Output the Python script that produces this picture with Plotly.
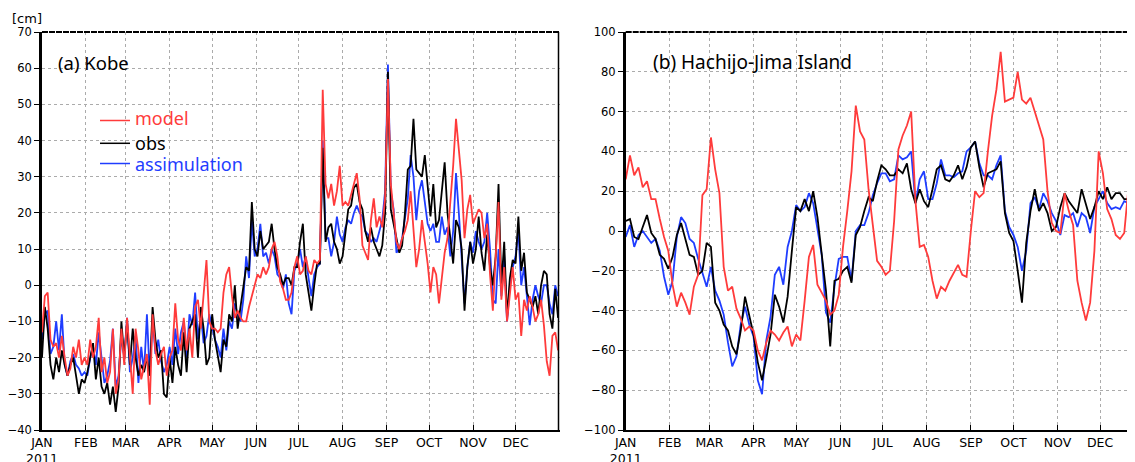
import pandas as pd
import plotly.graph_objects as go

# ---------------- Data (Kobe, every 2 days from 2011-01-01) ----------------
kobe_model = [
    -13, -3, -2, -15, -17, -16, -20, -14, -20, -25, -23, -17, -20, -15, -22, -20,
    -22, -15, -20, -17, -9, -24, -20, -27, -24, -12, -30, -26, -12, -22,
    -9, -20, -30, -12, -18, -26, -22, -19, -33, -8, -18, -22, -19, -17, -25,
    -20, -18, -5, -15, -18, -9, -18, -12, -20, -6, -4, -12, -2, 7, -10,
    -12, -12, -13, -12, -2, 3, 5, -3, -9, -7, -9, -10, -10, -6, -3, 0,
    3, 2, 5, 3, 5, 10, 12, 8, 1, -1, -4, -4, -2, 5, 8,
    3, 4, 8, 4, 3, 7, 6, 7, 54, 28, 24, 28, 22, 26, 33,
    22, 23, 22, 25, 28, 31, 24, 11, 9, 7, 18, 24, 16, 19, 16, 24,
    57, 28, 20, 12, 10, 13, 15, 18, 26, 14, 5, 10, 18, 12, 6,
    -2, 5, 3, -5, 2, 9, 13, 22, 33, 46, 37, 29, 13, 21, 25,
    17, 19, 21, 20, 13, 17, 3, -7, 10, 23, -4, 5, -10, -2, 5,
    -4, -2, -14, -4, -7, -3, -6, -10, -8, -4, -11, -21, -25, -14, -13, -18,
]
kobe_obs = [
    -20, -6, -12, -22, -26, -20, -24, -18, -22, -25, -22, -20, -25, -30, -26, -27,
    -24, -20, -16, -26, -20, -28, -30, -27, -33, -28, -35, -28, -10, -20,
    -10, -22, -12, -20, -25, -22, -24, -20, -25, -6, -15, -20, -18, -30, -31,
    -20, -27, -17, -22, -25, -13, -24, -12, -10, -8, -20, -6, -12, -22, -20,
    -8, -15, -20, -24, -15, -17, -8, -10, 0, -12, -6, -1, 5, 4, 23, 10,
    8, 15, 10, 11, 12, 17, 10, 5, 3, 0, 2, 2, 0, 5, 5,
    12, 17, 3, -2, -7, 0, 6, 6, 38, 12, 16, 17, 12, 10, 6,
    8, 15, 21, 22, 27, 28, 23, 21, 15, 12, 16, 12, 10, 8, 11, 20,
    59, 21, 17, 13, 9, 11, 20, 32, 33, 46, 32, 31, 30, 36, 28,
    19, 28, 16, 18, 26, 34, 20, 12, 6, 18, 16, 10, -7, 5, 12,
    6, 10, 19, 9, 4, 14, 5, 0, 8, 28, 0, 12, -9, 2, 7,
    6, 19, 4, 9, -2, -4, -6, -3, -8, 0, 4, 3, -8, -12, -1, -9,
]
kobe_assim = [
    -15, -8, -7, -19, -17, -10, -18, -8, -22, -25, -21, -19, -22, -23, -25, -24,
    -25, -20, -17, -22, -13, -20, -27, -25, -21, -12, -28, -25, -14, -20,
    -9, -24, -20, -14, -27, -17, -24, -8, -25, -9, -19, -15, -21, -24, -22,
    -17, -22, -12, -19, -13, -10, -20, -8, -11, -2, -15, -8, -16, -14, -8,
    -12, -15, -17, -20, -12, -18, -10, -12, -5, -8, -10, -4, 8, 2, 18, 8,
    10, 17, 8, 9, 6, 10, 8, 3, 2, -1, 3, -5, -8, 4, 6,
    10, 5, 8, 2, -3, 3, 5, 6, 40, 13, 13, 8, 12, 19, 14,
    12, 16, 18, 17, 20, 22, 20, 19, 15, 14, 12, 13, 12, 15, 18, 26,
    61, 26, 21, 9, 10, 13, 18, 24, 36, 30, 18, 26, 29, 23, 17,
    15, 17, 12, 12, 19, 14, 16, 8, 15, 31, 20, 8, -5, 5, 12,
    9, 15, 12, 10, 12, 20, 10, -4, -5, 10, -3, 8, -10, 0, 5,
    8, 15, 0, 5, -3, -11, -4, 0, -3, -5, 0, 0, -5, -8, 0, -3,
]

# ---------------- Data (Hachijo-Jima, every 3 days from 2011-01-01) ----------------
hachi_model = [
    26, 38, 28, 32, 22, 25, 16, 16, 6, -3, -10,
    -27, -38, -31, -36, -42, -28, -22, 18, 21,
    47, 31, 19, -18, -30, -28, -39, -44, -50, -48,
    -50, -60, -65, -56, -50, -52, -55, -51, -48, -58,
    -52, -55, -35, -13, -7, -27, -31, -35, -42, -40, -32,
    -8, 10, 30, 63, 50, 46, 21, 3, -15, -18,
    -22, -20, 5, 41, 48, 53, 60, 15, -8, -7,
    -13, -25, -34, -28, -30, -25, -21, -17, -22, -23,
    0, 20, 17, 19, 40, 58, 71, 90, 65, 66,
    67, 80, 66, 64, 67, 60, 53, 46, 20, 4, 0,
    -1, 19, 10, 3, -25, -36, -45, -36, -10, 40,
    29, 11, 6, -2, -4, -1, 22, 38, 39, 38,
]
hachi_obs = [
    5, 6, -3, -4, 2, 8, -1, -4, -12, -14, -19,
    -13, -2, 4, -4, -12, -13, -22, -20, -6,
    -8, -36, -40, -47, -50, -58, -62, -50, -33, -42,
    -52, -66, -75, -64, -52, -32, -38, -46, -33, -10,
    12, 10, 16, 10, 20, 7, -10, -30, -58, -25, -24,
    -20, -18, -26, -2, 2, 10, 17, 15, 25, 33,
    31, 28, 28, 31, 29, 34, 21, 14, 21, 15,
    12, 21, 31, 33, 26, 25, 28, 33, 26, 32,
    42, 45, 32, 22, 29, 30, 31, 35, 9, -1,
    -5, -20, -36, -6, 10, 21, 10, 14, 9, 0, 2,
    12, 19, 15, 12, 9, 21, 14, 6, 12, 20,
    16, 22, 16, 19, 19, 16, 16, 18, 16, 12,
]
hachi_assim = [
    -3, 3, -8, -2, 0, -3, -6, -4, -10, -23, -32,
    -25, -3, 7, 4, -4, -6, -14, -21, -28,
    -18, -30, -35, -42, -56, -68, -63, -47, -38, -47,
    -53, -75, -82, -55, -43, -22, -18, -27, -8, 0,
    13, 10, 12, 19, 14, 2, -12, -41, -46, -28, -14,
    -13, -13, -25, 0, 3, 3, 9, 18, 24, 29,
    29, 25, 26, 38, 36, 37, 40, 14, 26, 30,
    16, 16, 24, 36, 28, 28, 27, 29, 30, 40,
    42, 45, 34, 28, 28, 26, 33, 38, 10, 2,
    -2, -8, -20, -10, 14, 17, 11, 19, 15, 9, 5,
    -2, 8, 7, 9, 2, 9, 7, -1, 12, 16,
    20, 14, 11, 12, 11, 15, 14, 7, 5, 5,
]

month_labels = ["JAN<br>2011", "FEB", "MAR", "APR", "MAY", "JUN",
                "JUL", "AUG", "SEP", "OCT", "NOV", "DEC"]
series_names = ["model", "obs", "assimulation"]
series_colors = ["#ff3b3b", "#000000", "#1f3dff"]

kobe_dates = pd.date_range("2011-01-01", periods=len(kobe_obs), freq="2D")
hachi_dates = pd.date_range("2011-01-01", periods=len(hachi_obs), freq="3D")
month_ticks = pd.date_range("2011-01-01", periods=12, freq="MS")

# page body margin of 8px offsets the figure; size the figure to fill the window
OFF = 8
W, H = 1135 - OFF, 462 - OFF
def px(x):
    return (x - OFF) / W
def py(y):
    return 1 - (y - OFF) / H

fig = go.Figure()

draw_order = [2, 1, 0]
kobe_vals = [kobe_model, kobe_obs, kobe_assim]
hachi_vals = [hachi_model, hachi_obs, hachi_assim]
for k in draw_order:
    fig.add_trace(go.Scatter(x=kobe_dates, y=kobe_vals[k], mode="lines",
                             name=series_names[k], showlegend=False,
                             line=dict(color=series_colors[k], width=1.8),
                             xaxis="x", yaxis="y"))
for k in draw_order:
    fig.add_trace(go.Scatter(x=hachi_dates, y=hachi_vals[k], mode="lines",
                             name=series_names[k], showlegend=False,
                             line=dict(color=series_colors[k], width=1.8),
                             xaxis="x2", yaxis="y2"))

xtickfont = dict(family="DejaVu Sans", size=12.5, color="black")
ytickfont = dict(family="DejaVu Sans", size=11.5, color="black")
grid = dict(showgrid=True, gridcolor="#ababab", griddash="dot", gridwidth=1)
ydom = [py(430), py(32)]

xcommon = dict(type="date", tickmode="array", tickvals=list(month_ticks),
               ticktext=month_labels, tickfont=xtickfont, ticks="inside",
               ticklen=5, tickcolor="black", tickwidth=1.2, showline=True,
               linecolor="black", linewidth=2, zeroline=False, automargin=False,
               **grid)
ycommon = dict(tickfont=ytickfont, ticks="outside", ticklen=5, tickcolor="black",
               tickwidth=1.2, showline=True, linecolor="black", linewidth=2.5,
               zeroline=False, automargin=False, **grid)

fig.update_layout(
    width=W, height=H,
    margin=dict(l=0, r=0, t=0, b=0, pad=0, autoexpand=False),
    paper_bgcolor="white", plot_bgcolor="white",
    xaxis=dict(domain=[px(42), px(559.5)], range=["2011-01-01", "2012-01-01"],
               anchor="y", **xcommon),
    yaxis=dict(domain=ydom, range=[-40, 70], dtick=10, anchor="x", **ycommon),
    xaxis2=dict(domain=[px(625.7), 1.0], range=["2011-01-01", "2011-12-25 14:00"],
                anchor="y2", **xcommon),
    yaxis2=dict(domain=ydom, range=[-100, 100], dtick=20, anchor="x2", **ycommon),
    showlegend=False,
)

shapes = []
shapes.append(dict(type="line", xref="paper", yref="paper", x0=px(42), x1=px(559.5),
                   y0=py(32), y1=py(32), line=dict(color="black", width=2, dash="6px,1px")))
shapes.append(dict(type="line", xref="paper", yref="paper", x0=px(558.5), x1=px(558.5),
                   y0=py(32), y1=py(430), line=dict(color="black", width=1.5)))
shapes.append(dict(type="line", xref="paper", yref="paper", x0=px(625.7), x1=1.0,
                   y0=py(32), y1=py(32), line=dict(color="black", width=2, dash="6px,1px")))

legend_y = [120.5, 143.3, 163.5]
text_y = [118, 143, 164]
annotations = []
for k in range(3):
    shapes.append(dict(type="line", xref="paper", yref="paper", x0=px(100), x1=px(130),
                       y0=py(legend_y[k]), y1=py(legend_y[k]),
                       line=dict(color=series_colors[k], width=1.5)))
    annotations.append(dict(xref="paper", yref="paper", x=px(133), y=py(text_y[k]),
                            xanchor="left", yanchor="middle", showarrow=False,
                            text=series_names[k],
                            font=dict(family="Noto Sans", size=18, color=series_colors[k])))

annotations.append(dict(xref="paper", yref="paper", x=px(10), y=py(19), xanchor="left",
                        yanchor="middle", showarrow=False, text="[cm]",
                        font=dict(family="DejaVu Sans", size=13, color="black")))
annotations.append(dict(xref="paper", yref="paper", x=px(56), y=py(62), xanchor="left",
                        yanchor="middle", showarrow=False, text="(a) Kobe",
                        font=dict(family="Noto Sans", size=18.5, color="black")))
annotations.append(dict(xref="paper", yref="paper", x=px(651), y=py(62), xanchor="left",
                        yanchor="middle", showarrow=False, text="(b) Hachijo-Jima Island",
                        font=dict(family="Noto Sans", size=19, color="black")))

fig.update_layout(shapes=shapes, annotations=annotations)
fig.write_html("out.html")
